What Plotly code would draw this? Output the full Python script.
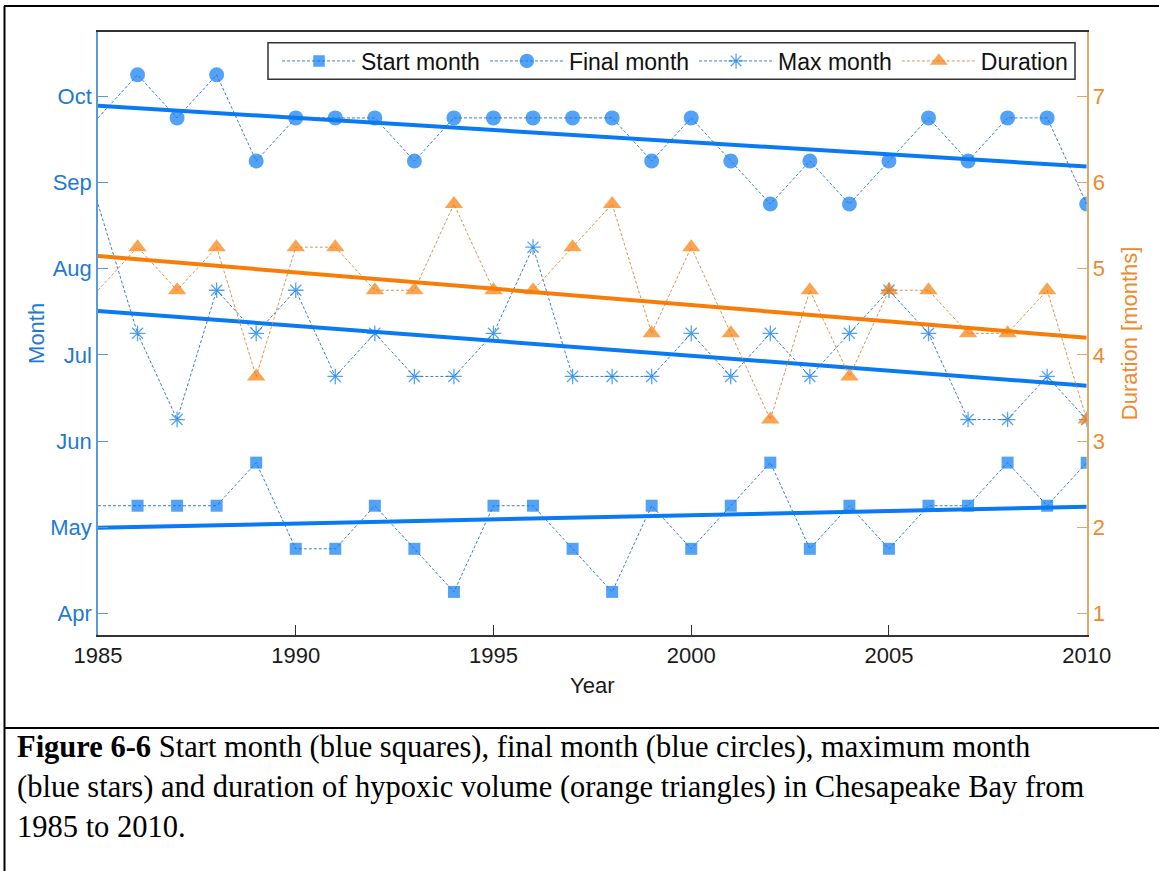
import numpy as np
import plotly.graph_objects as go

# ---- data -------------------------------------------------------------
years = list(range(1985, 2011))

# month numbers (Apr = 4 ... Oct = 10), quarter-month resolution
start_month = [5.25, 5.25, 5.25, 5.25, 5.75, 4.75, 4.75, 5.25, 4.75, 4.25,
               5.25, 5.25, 4.75, 4.25, 5.25, 4.75, 5.25, 5.75, 4.75, 5.25,
               4.75, 5.25, 5.25, 5.75, 5.25, 5.75]
final_month = [9.75, 10.25, 9.75, 10.25, 9.25, 9.75, 9.75, 9.75, 9.25, 9.75,
               9.75, 9.75, 9.75, 9.75, 9.25, 9.75, 9.25, 8.75, 9.25, 8.75,
               9.25, 9.75, 9.25, 9.75, 9.75, 8.75]
max_month = [8.75, 7.25, 6.25, 7.75, 7.25, 7.75, 6.75, 7.25, 6.75, 6.75,
             7.25, 8.25, 6.75, 6.75, 6.75, 7.25, 6.75, 7.25, 6.75, 7.25,
             7.75, 7.25, 6.25, 6.25, 6.75, 6.25]
# duration in months (right axis)
duration = [4.75, 5.25, 4.75, 5.25, 3.75, 5.25, 5.25, 4.75, 4.75, 5.75,
            4.75, 4.75, 5.25, 5.75, 4.25, 5.25, 4.25, 3.25, 4.75, 3.75,
            4.75, 4.75, 4.25, 4.25, 4.75, 3.25]

month_ticks = [4, 5, 6, 7, 8, 9, 10]
month_labels = ["Apr", "May", "Jun", "Jul", "Aug", "Sep", "Oct"]
duration_ticks = [1, 2, 3, 4, 5, 6, 7]
year_ticks = [1985, 1990, 1995, 2000, 2005, 2010]

# ---- styling ----------------------------------------------------------
W, H = 1159, 871
BLUE = "#0a7af2"
BLUE_LINK = "#3a80c6"
BLUE_AXIS = "#5a9ad6"
BLUE_TEXT = "#2379d2"
ORANGE = "#f77d08"
ORANGE_LINK = "#d6964f"
ORANGE_AXIS = "#e3a867"
ORANGE_TEXT = "#ee8a2c"
FONT = "Liberation Sans, Arial, sans-serif"
SERIF = "Liberation Serif, Times New Roman, serif"


def px_x(p):
    return p / W


def px_y(p):
    return 1 - p / H


def trend(x, y):
    k, b = np.polyfit(np.asarray(x, float), np.asarray(y, float), 1)
    return [k * xx + b for xx in x]


def sizes(n, s):
    # the 1985 point sits on the left frame and carries no marker
    return [0] + [s] * (n - 1)


n = len(years)
dash = "3px,2px"

fig = go.Figure()

series = [
    ("Start month", start_month, "square", 12, BLUE, BLUE_LINK, "y"),
    ("Final month", final_month, "circle", 15, BLUE, BLUE_LINK, "y"),
    ("Max month", max_month, "asterisk-open", 13, BLUE, BLUE_LINK, "y"),
    ("Duration", duration, "triangle-up", 16, ORANGE, ORANGE_LINK, "y2"),
]

for name, vals, sym, s, mc, lc, ax in series:
    fig.add_trace(go.Scatter(
        x=years, y=vals, name=name, yaxis=ax, mode="lines+markers",
        line=dict(color=lc, width=1, dash=dash),
        marker=dict(symbol=sym, size=sizes(n, s), color=mc,
                    line=dict(color=mc, width=1.3 if "asterisk" in sym else 0)),
    ))

# least-squares trend lines
for vals, col, ax in [(start_month, BLUE, "y"), (final_month, BLUE, "y"),
                      (max_month, BLUE, "y"), (duration, ORANGE, "y2")]:
    fig.add_trace(go.Scatter(
        x=years, y=trend(years, vals), yaxis=ax, mode="lines",
        line=dict(color=col, width=4), showlegend=False, hoverinfo="skip",
    ))

x0, x1 = px_x(98), px_x(1086.7)
y0, y1 = px_y(635), px_y(31.7)

fig.update_layout(
    width=W, height=H, autosize=False,
    margin=dict(l=0, r=0, t=0, b=0, pad=0, autoexpand=False),
    paper_bgcolor="white", plot_bgcolor="white",
    font=dict(family=FONT, size=22, color="#1a1a1a"),
    showlegend=True,
    legend=dict(
        orientation="h", x=px_x(277), y=px_y(39.5), xanchor="left", yanchor="top",
        bgcolor="rgba(0,0,0,0)", borderwidth=0,
        font=dict(family=FONT, size=23, color="#111111"),
        itemwidth=74, traceorder="normal",
    ),
    xaxis=dict(
        domain=[x0, x1], range=[1985, 2010], tickvals=year_ticks,
        ticks="inside", ticklen=10, tickcolor="#333333", tickwidth=1,
        showline=True, linecolor="#333333", linewidth=1.5, mirror=True,
        showgrid=False, zeroline=False, automargin=False,
        tickfont=dict(family=FONT, size=22, color="#1a1a1a"),
        title=dict(text="Year", font=dict(family=FONT, size=22, color="#1a1a1a"),
                   standoff=10),
    ),
    yaxis=dict(
        domain=[y0, y1], range=[3.75, 10.75], tickvals=month_ticks,
        ticktext=month_labels, ticks="inside", ticklen=10,
        tickcolor=BLUE_AXIS, tickwidth=1,
        showline=True, linecolor=BLUE_AXIS, linewidth=1.5,
        showgrid=False, zeroline=False, automargin=False,
        tickfont=dict(family=FONT, size=22, color=BLUE_TEXT),
        title=dict(text="Month", font=dict(family=FONT, size=22, color=BLUE_TEXT),
                   standoff=0),
    ),
    yaxis2=dict(
        overlaying="y", side="right", anchor="x",
        range=[0.75, 7.75], tickvals=duration_ticks,
        ticks="inside", ticklen=10, tickcolor=ORANGE_AXIS, tickwidth=1,
        showline=True, linecolor=ORANGE_AXIS, linewidth=1.5,
        showgrid=False, zeroline=False, automargin=False,
        tickfont=dict(family=FONT, size=22, color=ORANGE_TEXT),
        title=dict(text="Duration [months]",
                   font=dict(family=FONT, size=22, color=ORANGE_TEXT), standoff=18),
    ),
)

# legend frame
fig.add_shape(type="rect", xref="paper", yref="paper", layer="above",
              x0=px_x(268), x1=px_x(1075), y0=px_y(79.3), y1=px_y(42.7),
              line=dict(color="#333333", width=1.5), fillcolor="white")

# page frame: left edge, top edge and the rule above the caption
frame = dict(color="black", width=2)
fig.add_shape(type="line", xref="paper", yref="paper",
              x0=px_x(4.5), x1=px_x(4.5), y0=px_y(6), y1=0, line=frame)
fig.add_shape(type="line", xref="paper", yref="paper",
              x0=px_x(4), x1=1, y0=px_y(6), y1=px_y(6), line=frame)
fig.add_shape(type="line", xref="paper", yref="paper",
              x0=px_x(4), x1=1, y0=px_y(728), y1=px_y(728), line=frame)

caption = [
    "<b>Figure 6-6</b> Start month (blue squares), final month (blue circles), maximum month",
    "(blue stars) and duration of hypoxic volume (orange triangles) in Chesapeake Bay from",
    "1985 to 2010.",
]
for i, line in enumerate(caption):
    fig.add_annotation(
        text=line, xref="paper", yref="paper", x=px_x(15), y=px_y(747 + 40 * i),
        xanchor="left", yanchor="middle", showarrow=False, align="left",
        font=dict(family=SERIF, size=30.5, color="black"),
    )

fig.write_html("out.html")
